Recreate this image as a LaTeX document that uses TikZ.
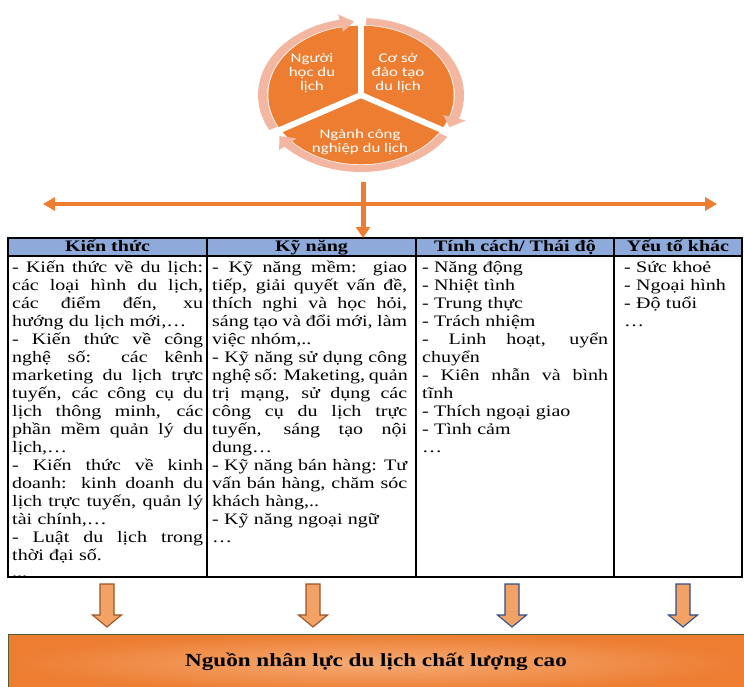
\documentclass[tikz,border=0pt]{standalone}
\usepackage{fontspec}
\setmainfont{Liberation Serif}[FakeStretch=1.25]
\newfontfamily\piefont{Carlito}[FakeStretch=1.27]
\usetikzlibrary{arrows.meta}

\definecolor{accentorange}{HTML}{ED7D31}
\definecolor{ringpink}{HTML}{F3B7A1}
\definecolor{headblue}{HTML}{8EAADB}
\definecolor{arrowfill}{HTML}{F3A265}
\definecolor{arrowbrown}{HTML}{9A5526}
\definecolor{arrowblue}{HTML}{2F4F8A}
\definecolor{boxlight}{HTML}{F4AB76}
\definecolor{boxedge}{HTML}{4E5F33}

% one fully justified line of a table cell (font spaces, so they can stretch)
\newcommand\jline[1]{{\spaceskip=0pt\xspaceskip=0pt\makebox[\hsize][s]{#1}}}
% a downward block arrow whose top centre is #1, outlined in #2
\newcommand\blockdown[2]{%
  \draw[blockarrow, draw=#2] (#1) ++(-7,0) -- ++(14,0) -- ++(0,31) -- ++(7.5,0)
    -- ++(-14.5,12) -- ++(-14.5,-12) -- ++(7.5,0) -- cycle;}

\begin{document}
\begin{tikzpicture}[x=1pt, y=-1pt,
  tableline/.style={line width=1.2pt, black},
  headcell/.style={anchor=north west, fill=headblue, draw=black, line width=1.2pt,
    outer sep=0pt, inner xsep=0pt, inner ysep=0pt, minimum height=18pt,
    text height=12pt, text depth=4pt, font=\bfseries\fontsize{16}{18}\selectfont},
  celltext/.style={anchor=base west, inner sep=0pt, align=left,
    font=\fontsize{16}{18}\selectfont},
  pietext/.style={text=white, align=center, inner sep=0pt,
    font=\piefont\fontsize{13.3}{13.8}\selectfont},
  hbar/.style={accentorange, line width=4.5pt},
  blockarrow/.style={fill=arrowfill, line width=1.1pt, line join=miter},
]
\useasboundingbox (0,0) rectangle (744,686);

% ---- segmented cycle ----
\begin{scope}[shift={(361,95)}, xscale=103, yscale=-77]
  \fill[accentorange] (0,0) circle[radius=0.9];
  \foreach \a in {90,-30,210} \draw[white, line width=6pt] (0,0) -- (\a:0.95);
  \foreach \s/\h/\t in {207/102/94, 87/-18/-26, -33/-138/-146} {
    \fill[ringpink] (\s:1) arc[start angle=\s, end angle=\h, radius=1]
      -- (\h:1.07) -- (\t:0.955) -- (\h:0.84) -- (\h:0.91)
      arc[start angle=\h, end angle=\s, radius=0.91] -- cycle;
  }
\end{scope}
\node[pietext] (p1) at (312,73) {Người\\học du\\lịch};
\node[pietext] (p2) at (398,73) {Cơ sở\\đào tạo\\du lịch};
\node[pietext] (p3) at (360,142) {Ngành công\\nghiệp du lịch};

% ---- table header ----
\node[headcell, minimum width=199pt] (h1) at (8,238) {Kiến thức};
\node[headcell, minimum width=209pt] (h2) at (207,238) {Kỹ năng};
\node[headcell, minimum width=198pt] (h3) at (416,238) {Tính cách/ Thái độ};
\node[headcell, minimum width=128pt] (h4) at (614,238) {Yếu tố khác};

% ---- connectors from the cycle to the table ----
\coordinate (hl) at (43,204);
\coordinate (hr) at (717,204);
\coordinate (piebottom) at (363,182);
\draw[hbar, {Triangle[length=12pt,width=13pt]}-{Triangle[length=12pt,width=13pt]}] (hl) -- (hr);
\draw[accentorange, line width=5pt, -{Triangle[length=11pt,width=14pt]}] (piebottom) -- (piebottom |- h2.north);

% ---- table body ----
\draw[tableline] (8,256) rectangle (742,577);
\draw[tableline] (207,256) -- (207,577);
\draw[tableline] (416,256) -- (416,577);
\draw[tableline] (614,256) -- (614,577);

\node[celltext, text width=191pt] (t1) at (12,272) {%
\jline{- Kiến thức về du lịch:}\\
\jline{các loại hình du lịch,}\\
\jline{các điểm đến, xu}\\
hướng du lịch mới,…\\
\jline{- Kiến thức về công}\\
\jline{nghệ số: các kênh}\\
\jline{marketing du lịch trực}\\
\jline{tuyến, các công cụ du}\\
\jline{lịch thông minh, các}\\
\jline{phần mềm quản lý du}\\
lịch,…\\
\jline{- Kiến thức về kinh}\\
\jline{doanh: kinh doanh du}\\
\jline{lịch trực tuyến, quản lý}\\
tài chính,…\\
\jline{- Luật du lịch trong}\\
thời đại số.\\[-1pt]
...};

\node[celltext, text width=195pt] (t2) at (212,272) {%
\jline{- Kỹ năng mềm: giao}\\
\jline{tiếp, giải quyết vấn đề,}\\
\jline{thích nghi và học hỏi,}\\
\jline{sáng tạo và đổi mới, làm}\\
việc nhóm,..\\
\jline{- Kỹ năng sử dụng công}\\
\jline{nghệ số: Maketing, quản}\\
\jline{trị mạng, sử dụng các}\\
\jline{công cụ du lịch trực}\\
\jline{tuyến, sáng tạo nội}\\
dung…\\
\jline{- Kỹ năng bán hàng: Tư}\\
\jline{vấn bán hàng, chăm sóc}\\
khách hàng,..\\
- Kỹ năng ngoại ngữ\\
…};

\node[celltext, text width=186pt] (t3) at (422,272) {%
- Năng động\\
- Nhiệt tình\\
- Trung thực\\
- Trách nhiệm\\
\jline{- Linh hoạt, uyển}\\
chuyển\\
\jline{- Kiên nhẫn và bình}\\
tĩnh\\
- Thích ngoại giao\\
- Tình cảm\\
…};

\node[celltext, text width=110pt] (t4) at (624,272) {%
- Sức khoẻ\\
- Ngoại hình\\
- Độ tuổi\\
…};

% ---- arrows into the result ----
\coordinate (d1) at (107,584);
\coordinate (d2) at (313,584);
\coordinate (d3) at (512,584);
\coordinate (d4) at (683,584);
\blockdown{d1}{arrowbrown}
\blockdown{d2}{arrowbrown}
\blockdown{d3}{arrowblue}
\blockdown{d4}{arrowblue}

% ---- result box ----
\shade[inner color=boxlight, outer color=accentorange] (8,634) rectangle (748,692);
\draw[boxedge, line width=1pt] (8,692) -- (8,634) -- (748,634);
\node[font=\bfseries\fontsize{18.5}{20}\selectfont, inner sep=0pt] (goal) at (376,662)
  {Nguồn nhân lực du lịch chất lượng cao};
\end{tikzpicture}
\end{document}
